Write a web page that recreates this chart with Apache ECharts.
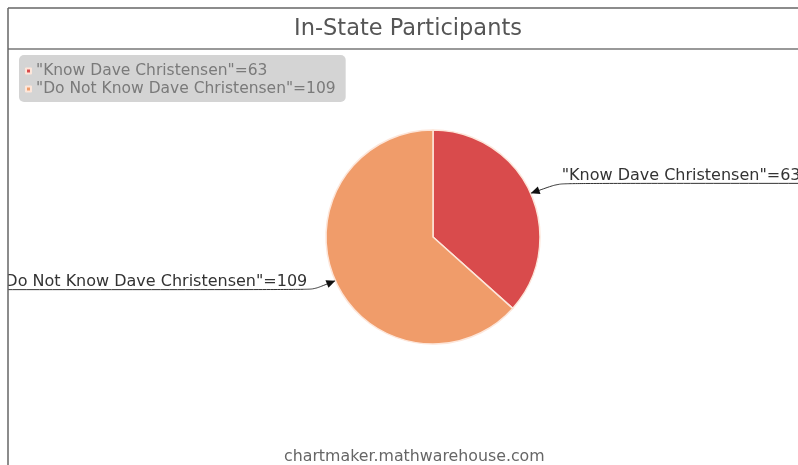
<!DOCTYPE html>
<html>
<head>
<meta charset="utf-8">
<script src="https://cdn.jsdelivr.net/npm/echarts@6/dist/echarts.min.js"></script>
<style>
html,body{margin:0;padding:0;background:#fff;}
#c{width:798px;height:465px;}
</style>
</head>
<body>
<div id="c"></div>
<script>
const titleText = 'In-State Participants';
const categories = ['Know Dave Christensen', 'Do Not Know Dave Christensen'];
const values = [63, 109];
const colors = ['#d94b4c', '#f09c6a'];
const footerText = 'chartmaker.mathwarehouse.com';

const chart = echarts.init(document.getElementById('c'), null, {renderer: 'canvas'});
const FONT = 'DejaVu Sans';
const tips = [];

function labelText(i) { return '"' + categories[i] + '"=' + values[i]; }

const staticGraphics = [
  {type: 'line', z: 10, shape: {x1: 8, y1: 8, x2: 798, y2: 8}, style: {stroke: '#666', lineWidth: 1.5}},
  {type: 'line', z: 10, shape: {x1: 8, y1: 49, x2: 798, y2: 49}, style: {stroke: '#777', lineWidth: 1.5}},
  {type: 'rect', z: 9, shape: {x: 0, y: 0, width: 8, height: 465}, style: {fill: '#fff'}},
  {type: 'line', z: 10, shape: {x1: 8, y1: 8, x2: 8, y2: 465}, style: {stroke: '#666', lineWidth: 1.5}},
  {type: 'text', z: 10, left: 284, top: 449, style: {text: footerText, fill: '#666', font: '15.8px "' + FONT + '"'}}
];

const option = {
  backgroundColor: '#fff',
  animation: false,
  title: {
    text: titleText,
    left: 403,
    top: 13,
    textAlign: 'center',
    textStyle: {fontFamily: FONT, fontSize: 22.5, fontWeight: 'normal', color: '#555'}
  },
  legend: {
    orient: 'vertical',
    left: 19,
    top: 55,
    padding: [7, 10, 4, 6],
    itemGap: 0,
    itemWidth: 5,
    itemHeight: 5,
    icon: 'rect',
    backgroundColor: '#d4d4d4',
    borderRadius: 5,
    data: categories,
    formatter: function (name) { return labelText(categories.indexOf(name)); },
    textStyle: {fontFamily: FONT, fontSize: 15.5, color: '#7a7a7a', lineHeight: 18}
  },
  color: colors,
  graphic: staticGraphics,
  series: [{
    type: 'pie',
    center: [433, 237],
    radius: 107,
    startAngle: 90,
    clockwise: true,
    data: categories.map((c, i) => ({name: c, value: values[i]})),
    itemStyle: {borderColor: '#fde6da', borderWidth: 1.5},
    label: {
      show: true,
      position: 'outer',
      overflow: 'none',
      width: 500,
      formatter: function (p) { return labelText(p.dataIndex); },
      fontFamily: FONT,
      fontSize: 16,
      color: '#333'
    },
    labelLine: {show: true, smooth: 0.2, lineStyle: {color: '#333', width: 1}},
    labelLayout: function (p) {
      const tip = p.labelLinePoints ? p.labelLinePoints[0] : [p.rect.x, p.rect.y];
      const right = tip[0] > 433;
      const w = p.labelRect.width;
      const bend = right ? [tip[0] + 28, tip[1] - 10] : [tip[0] - 22, tip[1] + 9];
      tips[p.dataIndex] = {tip: [tip[0], tip[1]], bend: bend};
      const endX = right ? bend[0] + w + 2 : bend[0] - w - 6;
      return {
        x: right ? bend[0] + 3 : bend[0] - 6,
        y: bend[1],
        align: right ? 'left' : 'right',
        verticalAlign: 'bottom',
        labelLinePoints: [tip, bend, [endX, bend[1]]]
      };
    }
  }]
};
chart.setOption(option);

function arrowGraphics() {
  return tips.filter(Boolean).map(function (t) {
    const dx = t.tip[0] - t.bend[0], dy = t.tip[1] - t.bend[1];
    const len = Math.sqrt(dx * dx + dy * dy);
    const ux = dx / len, uy = dy / len;
    const L = 9, H = 4;
    const bx = t.tip[0] - ux * L, by = t.tip[1] - uy * L;
    return {
      type: 'polygon', z: 20,
      shape: {points: [[t.tip[0], t.tip[1]], [bx - uy * H, by + ux * H], [bx + uy * H, by - ux * H]]},
      style: {fill: '#111'}
    };
  });
}
const arrows = arrowGraphics();
if (arrows.length) {
  chart.setOption({graphic: staticGraphics.concat(arrows)});
}
</script>
</body>
</html>
